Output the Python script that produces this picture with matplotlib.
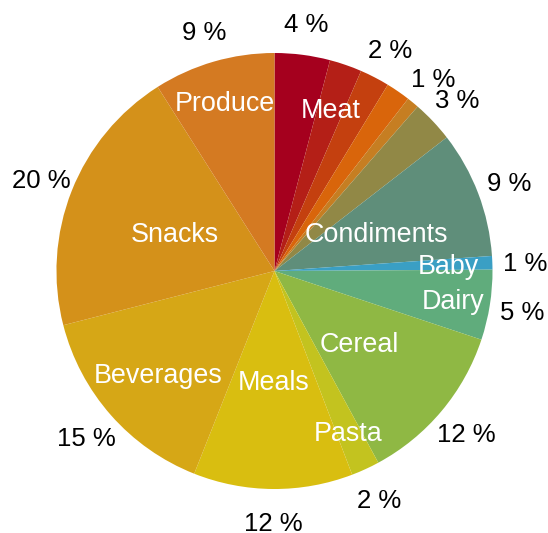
import numpy as np
import matplotlib
matplotlib.use("Agg")
from matplotlib import pyplot as plt

plt.rcParams['font.family'] = ['Liberation Sans', 'DejaVu Sans']

# share of spending per slice, clockwise from 12 o'clock
shares = [4.1, 2.4, 2.2, 1.8, 0.9, 3.1, 9.4, 1.0, 5.2, 12.0, 2.1, 11.8, 15.0, 20.0, 9.0]
colors = ['#A5001E', '#B41F17', '#C4400F', '#D9650B', '#C67E22', '#918846',
          '#5F8E7A', '#3A9FC4', '#60AC7C', '#8FB844', '#C3C31F', '#D9BE10',
          '#D6A716', '#D4911A', '#D47A22']
# slices whose percentage is printed outside the pie
show_pct = [True, False, True, False, True, True, True, True, True, True,
            True, True, True, True, True]

# category names: (text, first slice, last slice, radius as fraction of pie)
names = [('Meat', 0, 3, 0.79), ('Condiments', 6, 6, 0.50), ('Baby', 7, 7, 0.80),
         ('Dairy', 8, 8, 0.83), ('Cereal', 9, 9, 0.51), ('Pasta', 10, 10, 0.81),
         ('Meals', 11, 11, 0.50), ('Beverages', 12, 12, 0.71),
         ('Snacks', 13, 13, 0.49), ('Produce', 14, 14, 0.81)]

fig = plt.figure(figsize=(5.48, 5.33), dpi=100)
ax = fig.add_axes([0, 0, 1, 1])

wedges, _ = ax.pie(shares, colors=colors, startangle=90, counterclock=False,
                   radius=1.0, wedgeprops=dict(linewidth=0))

total = sum(shares)

def mid_angle(i, j):
    a1 = wedges[j].theta1
    a2 = wedges[i].theta2
    return np.deg2rad((a1 + a2) / 2)

# percentages around the outside
for i, w in enumerate(wedges):
    if not show_pct[i]:
        continue
    ang = mid_angle(i, i)
    pct = 100 * shares[i] / total
    ax.text(1.15 * np.cos(ang), 1.15 * np.sin(ang), f'{pct:.0f} %',
            ha='center', va='center_baseline', fontsize=18.5, color='black')

# category names inside the slices
for text, i, j, r in names:
    ang = mid_angle(i, j)
    ax.text(r * np.cos(ang), r * np.sin(ang), text, ha='center',
            va='center_baseline', fontsize=19.4, color='white')

ax.set_xlim(-1.259, 1.2546)
ax.set_ylim(-1.2018, 1.2431)
ax.set_aspect('equal', adjustable='datalim')
ax.axis('off')

fig.savefig('out.png', dpi=100, facecolor='white')
